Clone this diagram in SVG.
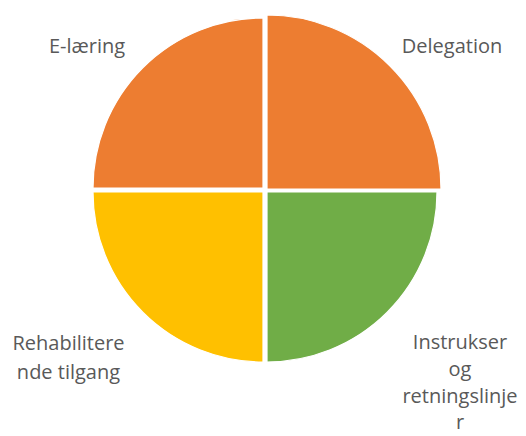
<svg xmlns="http://www.w3.org/2000/svg" width="526" height="436" viewBox="0 0 526 436">
<style>
.s{stroke:#ffffff;stroke-width:1.2}
.o{fill:#ED7D31}.y{fill:#FFC000}.g{fill:#70AD47}
text{font-family:"Open Sans","Liberation Sans",sans-serif;font-size:20px;fill:#595959;text-anchor:middle}
</style>
<rect width="526" height="436" fill="#ffffff"/>
<g id="e-laering">
<path class="s o" d="M263,188 L93,188 A170,170 0 0 1 263,18 Z"/>
<text x="87" y="53">E-læring</text>
</g>
<g id="delegation">
<path class="s o" d="M267,189 L267,15 A174,174 0 0 1 441,189 Z"/>
<text x="452" y="53">Delegation</text>
</g>
<g id="rehabiliterende">
<path class="s y" d="M263,192 L263,362 A170,170 0 0 1 93,192 Z"/>
<text x="68.5" y="350">Rehabilitere</text>
<text x="68.5" y="379">nde tilgang</text>
</g>
<g id="instrukser">
<path class="s g" d="M267,192 L437,192 A170,170 0 0 1 267,362 Z"/>
<text x="460" y="349">Instrukser</text>
<text x="460" y="376">og</text>
<text x="460" y="403">retningslinje</text>
<text x="460" y="429">r</text>
</g>
<g id="connectors"/>
</svg>
